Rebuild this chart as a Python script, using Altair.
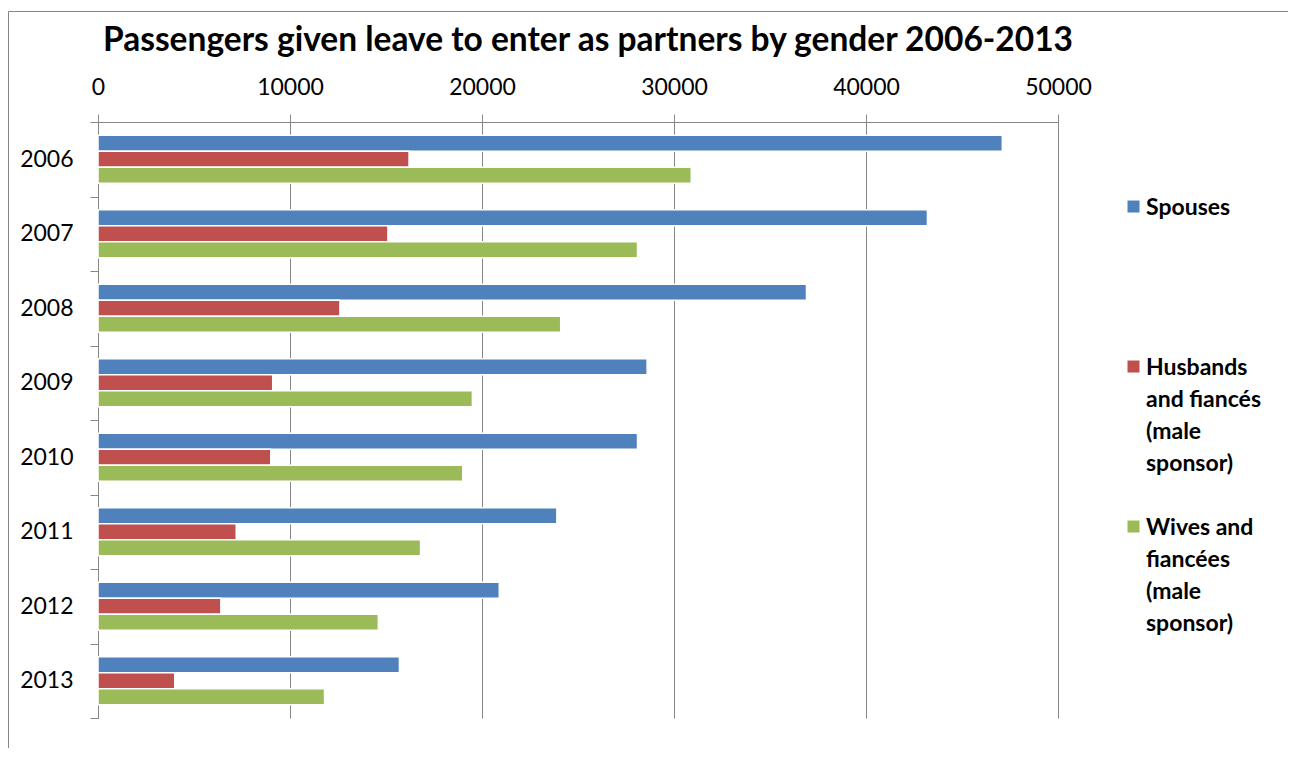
import json
import altair as alt
import pandas as pd

YEARS = ["2006", "2007", "2008", "2009", "2010", "2011", "2012", "2013"]
SERIES = [
    "Spouses",
    "Husbands and fiancés (male sponsor)",
    "Wives and fiancées (male sponsor)",
]
SPOUSES = [47100, 43200, 36900, 28600, 28100, 23900, 20900, 15700]
HUSBANDS = [16200, 15100, 12600, 9100, 9000, 7200, 6400, 4000]
WIVES = [30900, 28100, 24100, 19500, 19000, 16800, 14600, 11800]
COLORS = ["#4F81BD", "#C0504D", "#9BBB59"]
X_TICKS = [0, 10000, 20000, 30000, 40000, 50000]
LEGEND_LINES = [
    ["Spouses", "", "", ""],
    ["Husbands", "and fiancés", "(male", "sponsor)"],
    ["Wives and", "fiancées", "(male", "sponsor)"],
]
TITLE = "Passengers given leave to enter as partners by gender 2006-2013"

FONT = "Lato"
GRID = "#868686"

rows = []
for i, yr in enumerate(YEARS):
    for s, vals in zip(SERIES, [SPOUSES, HUSBANDS, WIVES]):
        rows.append({"year": yr, "series": s, "value": vals[i]})
df = pd.DataFrame(rows)

parts = [
    f"datum.value === {json.dumps(s)} ? {json.dumps(lines)}"
    for s, lines in zip(SERIES, LEGEND_LINES)
]
label_expr = " : ".join(parts) + " : datum.label"

bars = (
    alt.Chart(df)
    .mark_bar(stroke="white", strokeWidth=1.5)
    .encode(
        x=alt.X(
            "value:Q",
            scale=alt.Scale(domain=[0, 50000], nice=False),
            axis=alt.Axis(
                orient="top",
                values=X_TICKS,
                format="d",
                title=None,
                labelFont=FONT,
                labelFontSize=23,
                labelColor="black",
                labelPadding=15,
                labelFlush=False,
                tickSize=8,
                tickColor=GRID,
                domainColor=GRID,
                gridColor=GRID,
                grid=True,
            ),
        ),
        y=alt.Y(
            "year:N",
            sort=YEARS,
            scale=alt.Scale(paddingInner=0, paddingOuter=0),
            axis=alt.Axis(
                title=None,
                tickBand="extent",
                labelFont=FONT,
                labelFontSize=23,
                labelColor="black",
                labelPadding=17,
                tickSize=8,
                tickColor=GRID,
                domainColor=GRID,
                grid=False,
            ),
        ),
        yOffset=alt.YOffset(
            "series:N",
            sort=SERIES,
            scale=alt.Scale(paddingInner=0, paddingOuter=0.83),
        ),
        color=alt.Color(
            "series:N",
            sort=SERIES,
            scale=alt.Scale(domain=SERIES, range=COLORS),
            legend=alt.Legend(
                title=None,
                orient="none",
                legendX=1024,
                legendY=63,
                labelExpr=label_expr,
                labelFont=FONT,
                labelFontSize=23,
                labelFontWeight="bold",
                labelColor="black",
                labelBaseline="top",
                labelLimit=300,
                labelOffset=1,
                symbolType="M-1,0.67H1V2.67H-1Z",
                symbolSize=144,
                symbolStrokeWidth=0,
                rowPadding=29,
                padding=0,
            ),
        ),
    )
)

frame = (
    alt.Chart(pd.DataFrame({"k": [0]}))
    .mark_rect(fill=None, stroke=GRID, strokeWidth=1)
    .encode(
        x=alt.value(-89.5),
        x2=alt.value(1300),
        y=alt.value(-110.5),
        y2=alt.value(700),
    )
)

chart = (
    alt.layer(frame, bars)
    .properties(
        width=960,
        height=596,
        title=alt.TitleParams(
            text=TITLE,
            font=FONT,
            fontSize=33.5,
            fontWeight="bold",
            color="black",
            anchor="middle",
            offset=-47,
            dx=10,
        ),
        autosize=alt.AutoSizeParams(type="none"),
        padding={"left": 90, "top": 114, "right": 230, "bottom": 30},
    )
    .configure(
        view=alt.ViewConfig(strokeWidth=0),
        style={"guide-label": {"lineHeight": 32}},
    )
)

chart.save("out.html", embed_options={"renderer": "svg", "actions": False})
